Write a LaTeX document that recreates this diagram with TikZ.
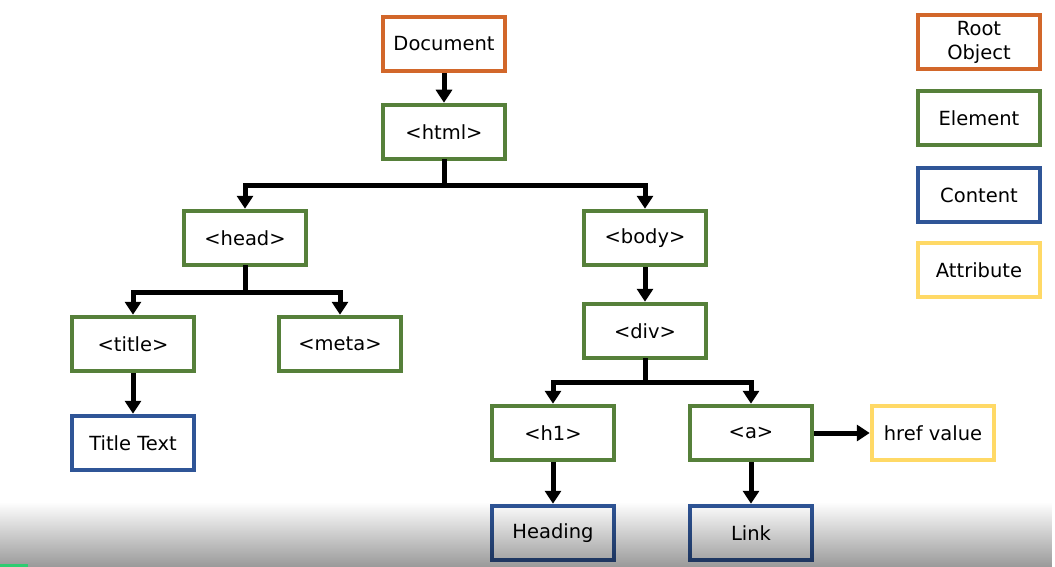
\documentclass[tikz,border=0pt]{standalone}
\usepackage{fontspec}
\setmainfont{DejaVu Sans}
\usetikzlibrary{arrows.meta,fadings}
\definecolor{cRoot}{HTML}{D2672A}
\definecolor{cElem}{HTML}{56803A}
\definecolor{cCont}{HTML}{2F5597}
\definecolor{cAttr}{HTML}{FFD966}
\definecolor{cBar}{HTML}{2ECC71}
\tikzset{
  box/.style={draw, line width=4.5pt, fill=white, minimum width=122pt, minimum height=54pt, inner sep=0pt, align=center, font=\fontsize{19.5}{22}\selectfont},
  rootbox/.style={box, draw=cRoot},
  elembox/.style={box, draw=cElem},
  contbox/.style={box, draw=cCont},
  attrbox/.style={box, draw=cAttr},
  conn/.style={line width=5pt, black, line join=miter},
  arr/.style={conn, -{Triangle[length=13pt,width=16pt]}},
  arrboth/.style={conn, {Triangle[length=13pt,width=16pt]}-{Triangle[length=13pt,width=16pt]}},
}
\begin{document}
\begin{tikzpicture}[x=1pt,y=-1pt]
\useasboundingbox (0,0) rectangle (1055,567);
\fill[white] (0,0) rectangle (1055,567);
% tree
\node[rootbox] (doc) at (444,44) {Document};
\node[elembox] (html) at (444,132) {<html>};
\node[elembox] (head) at (245,238) {<head>};
\node[elembox] (body) at (645,238) {<body>};
\node[elembox] (title) at (133,344) {<title>};
\node[elembox] (meta) at (340,344) {<meta>};
\node[contbox] (ttext) at (133,443) {Title Text};
\node[elembox] (div) at (645,331) {<div>};
\node[elembox] (h1) at (553,433) {<h1>};
\node[elembox] (a) at (751,433) {<a>};
\node[attrbox] (href) at (933,433) {href value};
\node[contbox] (heading) at (553,533) {Heading};
\node[contbox] (link) at (751,533) {Link};
% legend
\node[rootbox, font=\fontsize{19.5}{24}\selectfont] (lroot) at (979,42) {Root\\Object};
\node[elembox] (lelem) at (979,118) {Element};
\node[contbox] (lcont) at (979,195) {Content};
\node[attrbox] (lattr) at (979,270) {Attribute};
% connectors
\coordinate (j1) at (444,185);
\coordinate (j2) at (245,292);
\coordinate (j3) at (645,382);
\draw[arr] (doc) -- (html);
\draw[conn, line cap=rect] (html.south) -- (j1);
\draw[arrboth] (head.north) |- (j1) -| (body.north);
\draw[conn, line cap=rect] (head.south) -- (j2);
\draw[arrboth] (title.north) |- (j2) -| (meta.north);
\draw[arr] (title) -- (ttext);
\draw[arr] (body) -- (div);
\draw[conn, line cap=rect] (div.south) -- (j3);
\draw[arrboth] (h1.north) |- (j3) -| (a.north);
\draw[arr] (a) -- (href);
\draw[arr] (h1) -- (heading);
\draw[arr] (a) -- (link);
% bottom overlay
\fill[black, opacity=0.4, path fading=north] (0,502) rectangle (1055,567);
\fill[cBar] (0,564) rectangle (28,567);
\end{tikzpicture}
\end{document}
